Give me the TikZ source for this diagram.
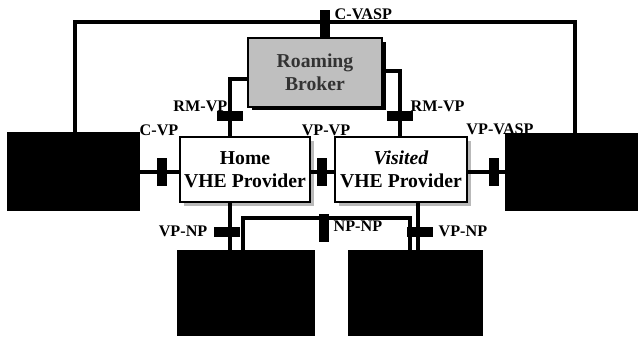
\documentclass[tikz,border=0pt]{standalone}
\usepackage{fontspec}
\setmainfont{Liberation Serif}
\usetikzlibrary{shadows}

\tikzset{
  wire/.style={line width=2.2pt},
  blkbox/.style={fill=black, minimum width=3.32cm, minimum height=1.95cm, inner sep=0pt},
  provbox/.style={draw, line width=1.8pt, fill=white, minimum width=3.25cm, minimum height=1.62cm,
    align=center, inner sep=0pt, font=\bfseries\fontsize{14}{16}\selectfont,
    drop shadow={shadow xshift=3pt, shadow yshift=-3pt, fill=gray!55, opacity=1}},
  brokerbox/.style={draw, line width=2pt, fill=gray!50, text=black!80, minimum width=3.35cm,
    minimum height=1.72cm, align=center, inner sep=0pt, font=\bfseries\fontsize{14}{16}\selectfont,
    drop shadow={shadow xshift=2.5pt, shadow yshift=-2.5pt, fill=black, opacity=1}},
  vport/.style={fill=black, minimum width=0.25cm, minimum height=0.72cm, inner sep=0pt},
  hport/.style={fill=black, minimum width=0.65cm, minimum height=0.27cm, inner sep=0pt},
  lbl/.style={font=\bfseries\fontsize{11.5}{13}\selectfont, inner sep=1pt},
}

\begin{document}
\begin{tikzpicture}[x=0.025cm, y=-0.025cm]
  \useasboundingbox (0,0) rectangle (638,336);

  % boxes
  \node[blkbox] (cust) at (73.5,171.5) {};
  \node[blkbox] (vasp) at (571.5,172) {};
  \node[provbox] (home) at (245,169.5) {Home\\VHE Provider};
  \node[provbox, minimum width=3.3cm] (visit) at (401,169.5) {\textit{Visited}\\VHE Provider};
  \node[brokerbox] (broker) at (315,72.5) {Roaming\\Broker};
  \node[blkbox, minimum width=3.45cm, minimum height=2.15cm] (netA) at (246,293) {};
  \node[blkbox, minimum width=3.38cm, minimum height=2.15cm] (netB) at (415.5,293) {};

  % bends
  \coordinate (topL) at (75,22);
  \coordinate (topR) at (575,22);
  \coordinate (cv) at (325,22);
  \coordinate (bl) at (230,79);
  \coordinate (br) at (400,71);
  \coordinate (mid) at (0,172);
  \coordinate (hd) at (230,0);
  \coordinate (vd) at (418,0);
  \coordinate (na) at (243,218);
  \coordinate (nb) at (410,218);

  % wires
  \draw[wire] (cust.north -| topL) -- (topL) -- (topR) -- (vasp.north -| topR);
  \draw[wire] (cv) -- (cv |- broker.north);
  \draw[wire] (bl -| broker.west) -- (bl) -- (bl |- home.north);
  \draw[wire] (br -| broker.east) -- (br) -- (br |- visit.north);
  \draw[wire] (cust.east |- mid) -- (home.west |- mid);
  \draw[wire] (home.east |- mid) -- (visit.west |- mid);
  \draw[wire] (visit.east |- mid) -- (vasp.west |- mid);
  \draw[wire] (home.south -| hd) -- (netA.north -| hd);
  \draw[wire] (visit.south -| vd) -- (netB.north -| vd);
  \draw[wire] (netA.north -| na) -- (na) -- (nb) -- (netB.north -| nb);

  % interfaces
  \node[vport] (pcvasp) at (325,24) {};
  \node[hport] (prmh) at (230,116) {};
  \node[hport] (prmv) at (400,116) {};
  \node[vport] (pcvp) at (162,172) {};
  \node[vport] (pvpvp) at (322,172) {};
  \node[vport] (pvasp) at (494,172) {};
  \node[hport] (pnph) at (227,232) {};
  \node[hport] (pnpv) at (420,232) {};
  \node[vport] (pnpnp) at (324,228) {};

  % labels
  \node[lbl, anchor=west] (lcvasp) at (333,14) {C-VASP};
  \node[lbl, anchor=east] (lrmh) at (229,106) {RM-VP};
  \node[lbl, anchor=west] (lrmv) at (409,106) {RM-VP};
  \node[lbl] (lcvp) at (159,130) {C-VP};
  \node[lbl] (lvpvp) at (326,130) {VP-VP};
  \node[lbl] (lvasp) at (500,129) {VP-VASP};
  \node[lbl, anchor=east] (lnph) at (209,231) {VP-NP};
  \node[lbl, anchor=west] (lnpv) at (437,231) {VP-NP};
  \node[lbl, anchor=west] (lnpnp) at (332,226) {NP-NP};
\end{tikzpicture}
\end{document}
